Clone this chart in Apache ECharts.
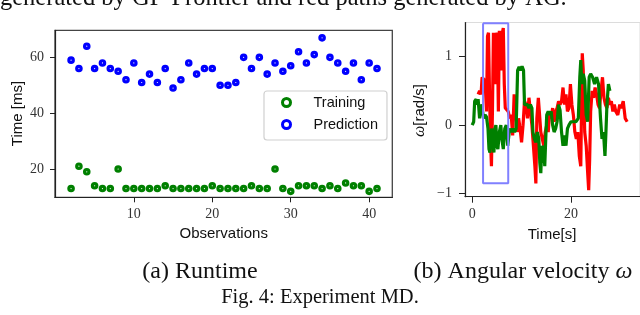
<!DOCTYPE html>
<html><head><meta charset="utf-8">
<script src="https://cdn.jsdelivr.net/npm/echarts@6/dist/echarts.min.js"></script>
<style>html,body{margin:0;padding:0;background:#fff;overflow:hidden}#c{width:640px;height:315px}</style>
</head><body><div id="c"></div>
<script>
// ---- (a) Runtime ----
const observations = [2,3,4,5,6,7,8,9,10,11,12,13,14,15,16,17,18,19,20,21,22,23,24,25,26,27,28,29,30,31,32,33,34,35,36,37,38,39,40,41];
const trainingMs   = [13,21,19,14,13,13,20,13,13,13,13,13,14,13,13,13,13,13,14,13,13,13,13,14,13,13,20,13,12,14,14,14,13,14,13,15,14,14,12,13];
const predictionMs = [59,56,64,56,58,56,55,52,58,51,54,51,56,49,52,58,54,56,56,50,50,51,60,56,60,54,58,55,57,62,58,61,67,60,58,55,58,52,58,56];
const obsTicks = [10,20,30,40];
const msTicks = [20,40,60];

// ---- (b) Angular velocity ----
const redTime  = [1.2,1.5,1.8,2.0,2.3,2.6,2.9,3.1,3.3,3.5,3.7,3.9,4.1,4.3,4.5,4.7,4.9,5.1,5.3,5.5,5.7,5.9,6.1,6.3,6.5,6.7,7.0,7.3,7.6,7.9,8.2,8.5,8.8,9.1,9.4,9.7,10.0,10.3,10.6,10.9,11.2,11.5,11.8,12.1,12.4,12.7,12.9,13.1,13.4,13.6,13.9,14.2,14.5,14.8,15.1,15.4,15.7,16.0,16.3,16.6,16.9,17.2,17.5,17.8,18.1,18.4,18.7,19.0,19.3,19.6,19.9,20.2,20.5,20.8,21.1,21.4,21.7,22.0,22.3,22.5,22.8,23.1,23.4,23.6,23.8,24.0,24.3,24.6,24.9,25.2,25.5,25.8,26.1,26.4,26.7,27.0,27.3,27.6,27.9,28.2,28.5,28.8,29.1,29.5,29.9,30.2,30.6,31.0,31.4];
const redOmega = [0.45,0.5,0.45,0.7,0.72,0.65,0.2,1.3,1.35,0.5,-0.2,-0.6,0.2,1.35,1.33,0.6,1.35,1.3,0.2,1.38,1.4,0.8,1.35,1.42,0.6,0.25,0.25,0.2,0.1,0.15,-0.15,0.45,0.3,-0.1,0.1,-0.05,-0.25,0.0,0.35,0.3,0.1,0.4,0.2,0.0,-0.3,-0.6,-0.85,0.1,0.4,0.2,-0.1,-0.2,-0.3,-0.1,0.0,-0.1,0.2,0.1,0.25,0.05,0.2,0.25,0.35,0.3,0.35,0.55,0.3,0.45,0.2,0.25,0.6,0.3,0.15,-0.1,-0.2,-0.1,-0.45,-0.6,1.05,0.8,-0.1,-0.3,-0.7,-0.95,-0.5,0.2,0.5,0.4,0.55,0.45,0.3,0.25,0.5,0.7,0.4,0.3,0.25,0.4,0.3,0.35,0.2,0.3,0.2,0.15,0.3,0.25,0.35,0.1,0.05];
const greenTime  = [0.0,0.3,0.5,0.8,1.0,1.2,1.5,1.7,2.0,2.3,2.6,2.9,3.2,3.4,3.6,3.8,4.0,4.2,4.4,4.6,4.8,5.0,5.2,5.5,5.8,6.0,6.3,6.6,6.9,7.2,7.5,7.8,8.0,8.3,8.6,8.9,9.2,9.5,9.8,10.1,10.4,10.6,10.9,11.2,11.5,11.8,12.1,12.3,12.6,12.9,13.2,13.5,13.7,13.9,14.1,14.3,14.5,14.7,14.9,15.1,15.4,15.7,16.0,16.3,16.6,16.9,17.2,17.5,17.8,18.1,18.4,18.7,19.0,19.3,19.6,20.0,20.5,21.0,21.5,21.8,22.0,22.2,22.5,22.8,23.1,23.4,23.7,24.0,24.4,24.8,25.2,25.6,26.0,26.3,26.6,26.9,27.1,27.3,27.6,27.9];
const greenOmega = [0.0,0.05,0.35,0.38,0.3,0.38,0.1,0.3,0.25,0.1,0.15,0.12,-0.05,-0.35,-0.4,-0.1,-0.05,-0.3,-0.4,-0.05,0.0,-0.3,-0.35,-0.1,0.0,-0.2,-0.35,-0.05,0.0,-0.3,-0.1,-0.05,-0.1,-0.05,-0.1,-0.05,0.8,0.85,0.8,0.86,0.8,0.3,0.28,0.3,0.25,0.3,0.25,-0.1,-0.2,-0.25,-0.1,-0.2,-0.55,-0.7,-0.3,-0.55,-0.3,-0.6,-0.2,0.15,0.2,0.15,0.2,0.0,-0.1,-0.05,0.05,0.3,0.22,-0.1,-0.3,-0.15,-0.3,-0.05,0.0,0.05,0.05,0.05,0.1,0.7,0.95,0.6,0.75,0.65,0.15,0.05,0.7,0.75,0.7,0.6,0.7,0.6,0.1,-0.2,-0.1,-0.45,-0.1,0.3,0.6,0.5];
const boxTime  = [2.2,7.3,7.3,2.2,2.2];
const boxOmega = [1.488,1.488,-0.85,-0.85,1.488];
const timeTicks = [0,20];
const omegaTicks = [-1,0,1];

const zip = (a,b) => a.map((v,i)=>[v,b[i]]);
const SERIF = '"Liberation Serif", "Times New Roman", serif';
const SANS = '"Liberation Sans", Arial, sans-serif';

const axisTxt = {fontFamily: SERIF, fontSize: 14, color: '#333'};
const chart = echarts.init(document.getElementById('c'), null, {renderer:'canvas'});
chart.setOption({
  animation: false,
  backgroundColor: '#fff',
  grid: [
    {left: 55, top: 30.3, right: 247.7, bottom: 117.7, show: true, borderColor: '#444', borderWidth: 1.3, backgroundColor: 'transparent'},
    {left: 465, top: 22.5, right: -3, bottom: 118.3, show: true, borderColor: '#dcdcdc', borderWidth: 1, backgroundColor: 'transparent'}
  ],
  xAxis: [
    {gridIndex: 0, type: 'value', min: -0.05, max: 42.95,
     axisLine: {show: true, onZero: false, lineStyle: {color: '#222', width: 1.2}},
     axisTick: {show: true, length: 5, customValues: obsTicks, lineStyle: {color: '#222'}},
     axisLabel: {customValues: obsTicks, margin: 10, ...axisTxt},
     splitLine: {show: false}},
    {gridIndex: 1, type: 'value', min: -1.46, max: 34.0,
     axisLine: {show: true, onZero: false, lineStyle: {color: '#222', width: 1.2}},
     axisTick: {show: true, length: 6, customValues: timeTicks, lineStyle: {color: '#222'}},
     axisLabel: {customValues: timeTicks, margin: 11, ...axisTxt},
     splitLine: {show: false}}
  ],
  yAxis: [
    {gridIndex: 0, type: 'value', min: 9.86, max: 69.7,
     axisLine: {show: true, onZero: false, lineStyle: {color: '#222', width: 1.2}},
     axisTick: {show: true, length: 5, customValues: msTicks, lineStyle: {color: '#222'}},
     axisLabel: {customValues: msTicks, margin: 11, ...axisTxt},
     splitLine: {show: false}},
    {gridIndex: 1, type: 'value', min: -1.045, max: 1.5,
     axisLine: {show: true, onZero: false, lineStyle: {color: '#222', width: 1.2}},
     axisTick: {show: true, length: 6, customValues: omegaTicks, lineStyle: {color: '#222'}},
     axisLabel: {customValues: omegaTicks, margin: 13, ...axisTxt, formatter: v => v < 0 ? '\u2212' + Math.abs(v) : String(v)},
     splitLine: {show: false}}
  ],
  legend: {
    orient: 'vertical', left: 264, top: 91,
    data: ['Training', 'Prediction'],
    backgroundColor: '#fff', borderColor: '#d0d0d0', borderWidth: 1.2, borderRadius: 3,
    padding: [3, 9, 7, 17], itemGap: 5, itemWidth: 8, itemHeight: 8,
    itemStyle: {borderWidth: 3},
    formatter: n => '{g|}' + n,
    textStyle: {fontFamily: SANS, fontSize: 14.5, color: '#111', lineHeight: 17, rich: {g: {width: 18}}}
  },
  series: [
    {name: 'Training', type: 'scatter', xAxisIndex: 0, yAxisIndex: 0, data: zip(observations, trainingMs),
     symbol: 'circle', symbolSize: 4.4, itemStyle: {color: '#fff', borderColor: '#008000', borderWidth: 3.2, opacity: 1}},
    {name: 'Prediction', type: 'scatter', xAxisIndex: 0, yAxisIndex: 0, data: zip(observations, predictionMs),
     symbol: 'circle', symbolSize: 4.4, itemStyle: {color: '#fff', borderColor: '#0000ff', borderWidth: 3.2, opacity: 1}},
    {name: 'AG', type: 'line', xAxisIndex: 1, yAxisIndex: 1, data: zip(redTime, redOmega),
     showSymbol: false, symbol: 'none', lineStyle: {color: '#ff0000', width: 3.2}, z: 2},
    {name: 'GP-Frontier', type: 'line', xAxisIndex: 1, yAxisIndex: 1, data: zip(greenTime, greenOmega),
     showSymbol: false, symbol: 'none', lineStyle: {color: '#008000', width: 3.2}, z: 3},
    {name: 'box', type: 'line', xAxisIndex: 1, yAxisIndex: 1, data: zip(boxTime, boxOmega),
     showSymbol: false, symbol: 'none', lineStyle: {color: '#8080ff', width: 2}, z: 4}
  ],
  graphic: [
    {type: 'text', x: 0, y: 11, style: {text: 'generated by GP-Frontier and red paths generated by AG.', font: '24.5px ' + SERIF, fill: '#111', textVerticalAlign: 'bottom'}},
    {type: 'text', x: 17.5, y: 113.5, rotation: Math.PI/2, style: {text: 'Time [ms]', font: '15px ' + SANS, fill: '#111', textAlign: 'center', textVerticalAlign: 'middle'}},
    {type: 'text', x: 223.7, y: 234, style: {text: 'Observations', font: '15px ' + SANS, fill: '#111', textAlign: 'center', textVerticalAlign: 'middle'}},
    {type: 'text', x: 419.5, y: 110.5, rotation: Math.PI/2, style: {text: '{w|\u03c9}{r|[rad/s]}', rich: {w: {font: 'italic 16px ' + SERIF, fill: '#111'}, r: {font: '15px ' + SANS, fill: '#111'}}, textAlign: 'center', textVerticalAlign: 'middle'}},
    {type: 'text', x: 552, y: 234.5, style: {text: 'Time[s]', font: '15px ' + SANS, fill: '#111', textAlign: 'center', textVerticalAlign: 'middle'}},
    {type: 'text', x: 200, y: 272, style: {text: '(a) Runtime', font: '24px ' + SERIF, fill: '#111', textAlign: 'center', textVerticalAlign: 'middle'}},
    {type: 'text', x: 523, y: 272, style: {text: '{a|(b) Angular velocity }{w|\u03c9}', rich: {a: {font: '24px ' + SERIF, fill: '#111'}, w: {font: 'italic 24px ' + SERIF, fill: '#111'}}, textAlign: 'center', textVerticalAlign: 'middle'}},
    {type: 'text', x: 320, y: 298, style: {text: 'Fig. 4: Experiment MD.', font: '20.5px ' + SERIF, fill: '#111', textAlign: 'center', textVerticalAlign: 'middle'}}
  ]
});
</script></body></html>
